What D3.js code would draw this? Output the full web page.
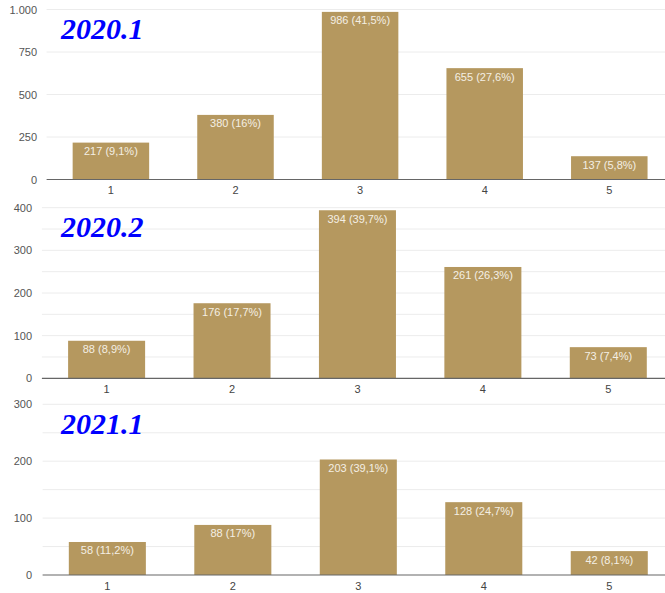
<!DOCTYPE html>
<html lang="en">
<head>
  <meta charset="UTF-8">
  <title>Bars</title>
  <style>
  body { margin: 0; background: #fff; }
  svg { display: block; }
  </style>
</head>
<body>
  <svg id="chart" width="665" height="593"></svg>
  <script src="https://cdn.jsdelivr.net/npm/d3@7"></script>
  <script>

const categories = ['1', '2', '3', '4', '5']

const titles = ['2020.1', '2020.2', '2021.1']

const counts2020a = [217, 380, 986, 655, 137]
const counts2020b = [88, 176, 394, 261, 73]
const counts2021a = [58, 88, 203, 128, 42]

const pct2020a = [9.1, 16, 41.5, 27.6, 5.8]
const pct2020b = [8.9, 17.7, 39.7, 26.3, 7.4]
const pct2021a = [11.2, 17, 39.1, 24.7, 8.1]

const ticks2020a = [0, 250, 500, 750, 1000]
const ticks2020b = [0, 100, 200, 300, 400]
const ticks2021a = [0, 100, 200, 300]

// layout of each panel
const panels = [
  { title: titles[0], counts: counts2020a, pct: pct2020a, ticks: ticks2020a, max: 1000, grid: 250,
    top: 9.5, bottom: 179.5, left: 48.6, right: 671.6, labelRight: 37 },
  { title: titles[1], counts: counts2020b, pct: pct2020b, ticks: ticks2020b, max: 400, grid: 50,
    top: 207.7, bottom: 378.3, left: 43.9, right: 671, labelRight: 32 },
  { title: titles[2], counts: counts2021a, pct: pct2021a, ticks: ticks2021a, max: 300, grid: 50,
    top: 404.3, bottom: 575, left: 44.6, right: 672, labelRight: 32 }
]

const locale = d3.formatLocale({ decimal: ',', thousands: '.', grouping: [3], currency: ['', ''] })
const tickFmt = locale.format(',d')
const pctFmt = v => String(v).replace('.', ',')

const svg = d3.select('#chart')

panels.forEach(p => {
  const g = svg.append('g')

  const x = d3.scaleBand()
      .domain(categories)
      .range([p.left, p.right])
      .paddingInner(0.386)
      .paddingOuter(0.193)

  const y = d3.scaleLinear()
      .domain([0, p.max])
      .range([p.bottom, p.top])

  // gridlines
  g.append('g')
    .selectAll('line')
    .data(d3.range(p.grid, p.max + 1, p.grid))
    .join('line')
      .attr('x1', p.left - 2)
      .attr('x2', 665)
      .attr('y1', d => y(d))
      .attr('y2', d => y(d))
      .attr('stroke', '#ececec')
      .attr('stroke-width', 1)

  // y axis labels
  const yAxis = d3.axisLeft(y)
      .tickValues(p.ticks)
      .tickFormat(tickFmt)
      .tickSize(0)
      .tickPadding(0)
  g.append('g')
      .attr('transform', `translate(${p.labelRight},0)`)
      .call(yAxis)
      .call(a => a.select('.domain').remove())
      .call(a => a.selectAll('text')
        .attr('fill', '#555')
        .style('font', '11px "Liberation Sans", Arial, sans-serif'))

  // bars
  g.append('g')
    .selectAll('rect')
    .data(p.counts)
    .join('rect')
      .attr('x', (d, i) => x(categories[i]))
      .attr('width', x.bandwidth())
      .attr('y', d => y(d))
      .attr('height', d => y(0) - y(d))
      .attr('fill', '#b5985f')

  // value labels inside bars
  g.append('g')
    .selectAll('text')
    .data(p.counts)
    .join('text')
      .attr('x', (d, i) => x(categories[i]) + x.bandwidth() / 2)
      .attr('y', d => y(d) + 12.5)
      .attr('text-anchor', 'middle')
      .attr('fill', '#f4efe4')
      .style('font', '11px "Liberation Sans", Arial, sans-serif')
      .text((d, i) => `${d} (${pctFmt(p.pct[i])}%)`)

  // baseline
  g.append('line')
      .attr('x1', p.left - 2)
      .attr('x2', 665)
      .attr('y1', y(0))
      .attr('y2', y(0))
      .attr('stroke', '#666')
      .attr('stroke-width', 1.2)

  // x axis labels
  const xAxis = d3.axisBottom(x).tickSize(0).tickPadding(0)
  g.append('g')
      .attr('transform', `translate(0,${y(0) + 7})`)
      .call(xAxis)
      .call(a => a.select('.domain').remove())
      .call(a => a.selectAll('text')
        .attr('fill', '#444')
        .style('font', '11px "Liberation Sans", Arial, sans-serif'))

  // period title
  g.append('text')
      .attr('x', 61)
      .attr('y', p.top + 29.5)
      .attr('fill', '#0000ff')
      .style('font', 'italic bold 30px "Liberation Serif", "Times New Roman", serif')
      .text(p.title)
})

  </script>
</body>
</html>
